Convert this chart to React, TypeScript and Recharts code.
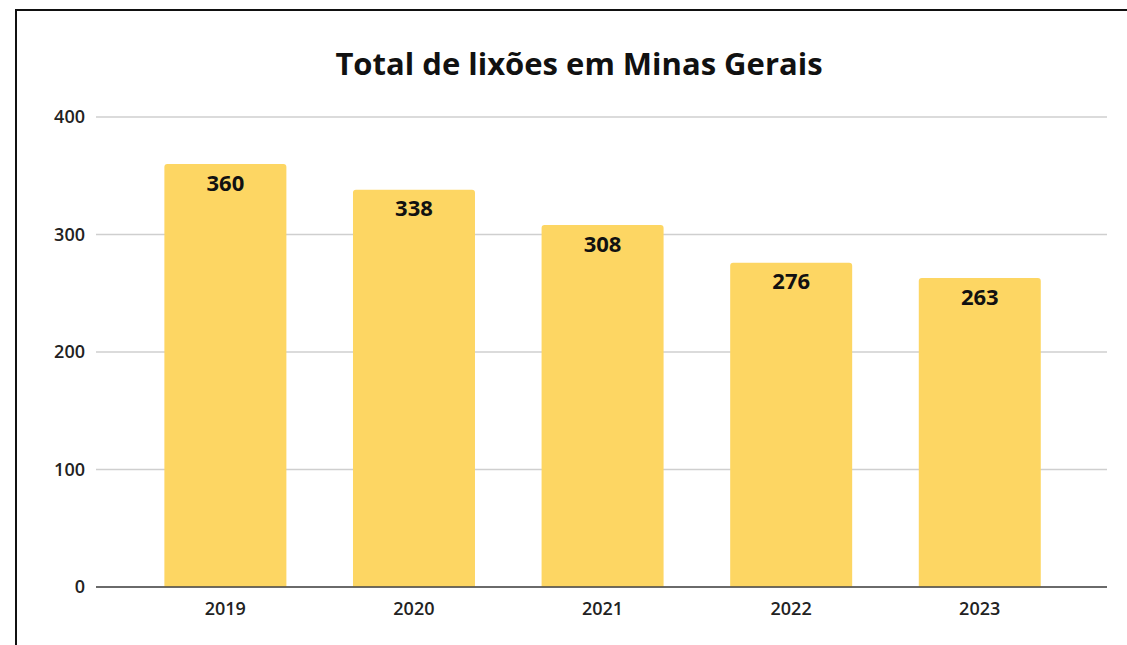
import React from "react";
import { BarChart, Bar, XAxis, YAxis, CartesianGrid, LabelList } from "recharts";

const years = ["2019", "2020", "2021", "2022", "2023"];
const totals = [360, 338, 308, 276, 263];
const yTicks = [0, 100, 200, 300, 400];
const title = "Total de lixões em Minas Gerais";

const data = years.map((y, i) => ({ year: y, total: totals[i] }));

const FONT = "'Open Sans', 'Liberation Sans', sans-serif";

export default function App() {
  return (
    <div style={{ position: "absolute", left: 0, top: 0, width: 1127, height: 645, background: "#fff", overflow: "hidden" }}>
      <div style={{ position: "absolute", left: 15, top: 9, width: 1120, height: 650, borderLeft: "2px solid #111", borderTop: "2px solid #111" }} />
      <div style={{ position: "absolute", left: 0, top: 42, width: 1158, textAlign: "center", fontFamily: FONT, fontWeight: 700, fontSize: 31, lineHeight: "42px", color: "#111" }}>
        {title}
      </div>
      <div style={{ position: "absolute", left: 0, top: 0 }}>
        <BarChart width={1127} height={645} data={data} margin={{ top: 117, right: 20, bottom: 28, left: 0 }} barCategoryGap="17.7%">
          <CartesianGrid vertical={false} stroke="#cfcfcf" strokeWidth={1.5} />
          <XAxis
            dataKey="year"
            height={30}
            padding={{ left: 35, right: 33 }}
            axisLine={{ stroke: "#444", strokeWidth: 1.5 }}
            tickLine={false}
            tickSize={0}
            tickMargin={15}
            tick={{ fill: "#222", fontSize: 18, fontWeight: 600, fontFamily: FONT }}
          />
          <YAxis
            width={96}
            domain={[0, 400]}
            ticks={yTicks}
            axisLine={false}
            tickLine={false}
            tickSize={0}
            tickMargin={11}
            tick={{ fill: "#222", fontSize: 18, fontWeight: 600, fontFamily: FONT }}
          />
          <Bar dataKey="total" fill="#FDD663" radius={[3, 3, 0, 0]} isAnimationActive={false}>
            <LabelList dataKey="total" position="insideTop" offset={11} style={{ fill: "#111", fontSize: 22, fontWeight: 700, fontFamily: FONT }} />
          </Bar>
        </BarChart>
      </div>
    </div>
  );
}
